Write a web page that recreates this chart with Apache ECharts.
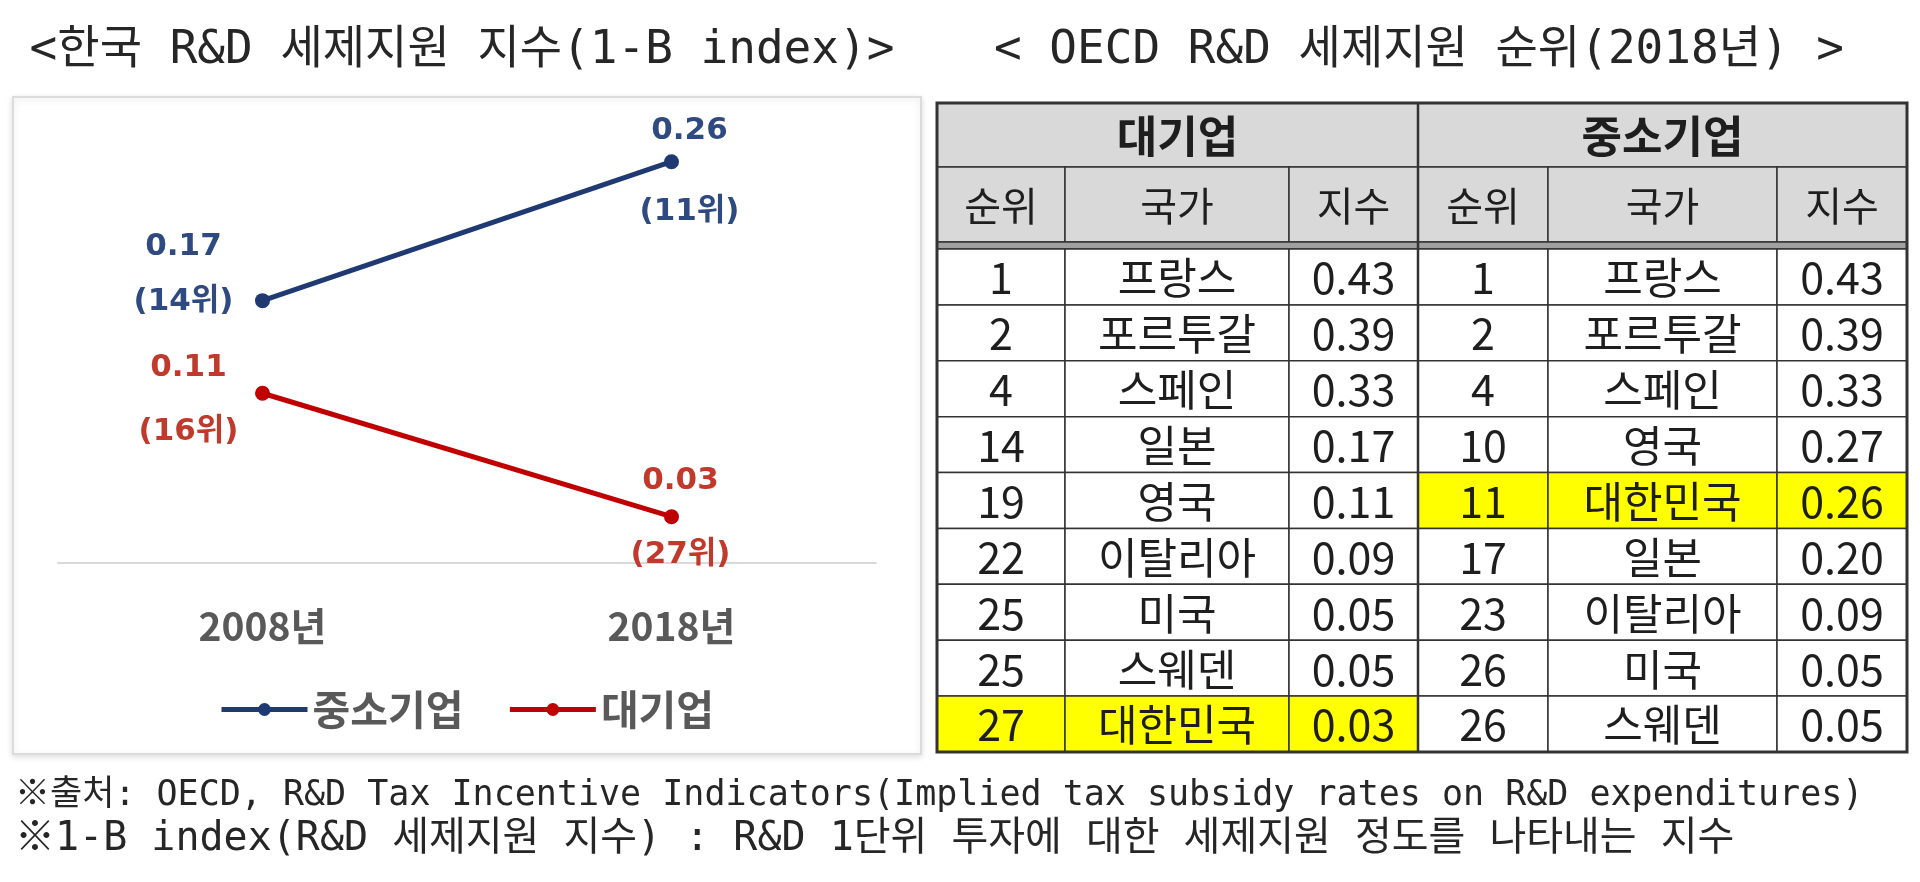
<!DOCTYPE html>
<html><head><meta charset="utf-8">
<script src="https://cdn.jsdelivr.net/npm/echarts@6/dist/echarts.min.js"></script>
<style>html,body{margin:0;padding:0;background:#fff}#c{width:1920px;height:882px}</style>
</head><body><div id="c"></div>
<script>
// ---- line chart data ----
const years = ['2008년', '2018년'];
const smeName = '중소기업';
const largeName = '대기업';
const smeValues = [0.17, 0.26];
const smeRanks = [14, 11];
const largeValues = [0.11, 0.03];
const largeRanksChart = [16, 27];

// ---- table data ----
const groupHeaders = ['대기업', '중소기업'];
const colHeaders = ['순위', '국가', '지수'];
const tblLargeRank = [1, 2, 4, 14, 19, 22, 25, 25, 27];
const tblLargeCountry = ['프랑스', '포르투갈', '스페인', '일본', '영국', '이탈리아', '미국', '스웨덴', '대한민국'];
const tblLargeIndex = [0.43, 0.39, 0.33, 0.17, 0.11, 0.09, 0.05, 0.05, 0.03];
const tblSmeRank = [1, 2, 4, 10, 11, 17, 23, 26, 26];
const tblSmeCountry = ['프랑스', '포르투갈', '스페인', '영국', '대한민국', '일본', '이탈리아', '미국', '스웨덴'];
const tblSmeIndex = [0.43, 0.39, 0.33, 0.27, 0.26, 0.20, 0.09, 0.05, 0.05];
const highlightCountry = '대한민국';

// ---- texts ----
const leftTitle = '<한국 R&D 세제지원 지수(1-B index)>';
const rightTitle = '< OECD R&D 세제지원 순위(2018년) >';
const note1 = '※출처: OECD, R&D Tax Incentive Indicators(Implied tax subsidy rates on R&D expenditures)';
const note2 = '※1-B index(R&D 세제지원 지수) : R&D 1단위 투자에 대한 세제지원 정도를 나타내는 지수';

// ---- layout (styles) ----
const COL = [0, 128, 352, 481, 611, 840, 970];
const TBL_H = 649;
const DATA_TOP = 146;
const ROW_H = (TBL_H - DATA_TOP) / 9;
const CJK = '"Noto Sans CJK KR"';
const MONO = '"DejaVu Sans Mono", "Noto Sans CJK KR"';

const labelOffsets = {
  sme: [{off: [-79, -26], lh: 55}, {off: [18, 10], lh: 81}],
  large: [{off: [-74, 7], lh: 64}, {off: [9, 1], lh: 74}]
};
function mkData(vals, ranks, key, color) {
  return vals.map((v, i) => ({
    value: v,
    label: {
      show: true, position: 'inside', offset: labelOffsets[key][i].off,
      align: 'center', verticalAlign: 'middle',
      lineHeight: labelOffsets[key][i].lh,
      formatter: v.toFixed(2) + '\n(' + ranks[i] + '위)',
      fontFamily: '"DejaVu Sans", "Noto Sans CJK KR"', fontWeight: 'bold', fontSize: 31, color: color
    }
  }));
}

// ---- table cells ----
const cells = [];
function addCell(c0, c1, y0, y1, text, o) {
  cells.push(Object.assign({x0: COL[c0], x1: COL[c1], y0: y0, y1: y1, text: text}, o));
}
const HDR = '#D9D9D9';
addCell(0, 3, 0, 64, groupHeaders[0], {fill: HDR, size: 44, bold: true});
addCell(3, 6, 0, 64, groupHeaders[1], {fill: HDR, size: 44, bold: true});
for (let h = 0; h < 2; h++) for (let k = 0; k < 3; k++)
  addCell(3 * h + k, 3 * h + k + 1, 64, 139, colHeaders[k], {fill: HDR, size: 40});
cells.push({x0: 0, x1: 970, y0: 139, y1: DATA_TOP, text: '', fill: '#A0A0A0'});
for (let i = 0; i < 9; i++) {
  const y0 = DATA_TOP + i * ROW_H, y1 = DATA_TOP + (i + 1) * ROW_H;
  const fl = tblLargeCountry[i] === highlightCountry ? '#FFFF00' : '#FFFFFF';
  const fs = tblSmeCountry[i] === highlightCountry ? '#FFFF00' : '#FFFFFF';
  addCell(0, 1, y0, y1, String(tblLargeRank[i]), {fill: fl, size: 43});
  addCell(1, 2, y0, y1, tblLargeCountry[i], {fill: fl, size: 43});
  addCell(2, 3, y0, y1, tblLargeIndex[i].toFixed(2), {fill: fl, size: 43});
  addCell(3, 4, y0, y1, String(tblSmeRank[i]), {fill: fs, size: 43});
  addCell(4, 5, y0, y1, tblSmeCountry[i], {fill: fs, size: 43});
  addCell(5, 6, y0, y1, tblSmeIndex[i].toFixed(2), {fill: fs, size: 43});
}
cells.push({x0: 0, x1: 970, y0: 0, y1: TBL_H, text: '', fill: null, lw: 3});
cells.push({x0: COL[3], x1: COL[3], y0: 0, y1: TBL_H, text: '', fill: null, lw: 2.5});

function renderCell(params, api) {
  const c = cells[params.dataIndex];
  const p0 = api.coord([api.value(0), api.value(1)]);
  const p1 = api.coord([api.value(2), api.value(3)]);
  const children = [{
    type: 'rect',
    shape: {x: p0[0], y: p0[1], width: p1[0] - p0[0], height: p1[1] - p0[1]},
    style: {fill: c.fill || 'none', stroke: '#333', lineWidth: c.lw || 1.5}
  }];
  if (c.text) {
    children.push({
      type: 'text',
      style: {
        text: c.text, x: (p0[0] + p1[0]) / 2, y: (p0[1] + p1[1]) / 2 + 1,
        align: 'center', verticalAlign: 'middle',
        fontFamily: CJK, fontSize: c.size, fontWeight: c.bold ? 'bold' : 'normal',
        fill: '#1e1e1e'
      }
    });
  }
  return {type: 'group', children: children};
}

const chart = echarts.init(document.getElementById('c'));
chart.setOption({
  animation: false,
  backgroundColor: '#ffffff',
  graphic: [
    {type: 'rect', z: -10, shape: {x: 13, y: 97, width: 908, height: 657},
     style: {fill: '#fff', stroke: '#DCDCDC', lineWidth: 2, shadowBlur: 6, shadowColor: 'rgba(0,0,0,0.12)', shadowOffsetY: 2}},
    {type: 'text', x: 462, y: 51, style: {text: leftTitle, align: 'center', verticalAlign: 'middle', font: '46px ' + MONO, fill: '#262626'}},
    {type: 'text', x: 1419, y: 51, style: {text: rightTitle, align: 'center', verticalAlign: 'middle', font: '46px ' + MONO, fill: '#262626'}},
    {type: 'text', x: 15, y: 796, style: {text: note1, align: 'left', verticalAlign: 'middle', font: '35px ' + MONO, fill: '#262626'}},
    {type: 'text', x: 15, y: 840, style: {text: note2, align: 'left', verticalAlign: 'middle', font: '40px ' + MONO, fill: '#262626'}}
  ],
  legend: {
    data: [smeName, largeName], left: 214, top: 684, itemWidth: 86, itemHeight: 16, itemGap: 44,
    lineStyle: {width: 5},
    textStyle: {fontSize: 41, fontWeight: 'bold', color: '#595959', fontFamily: CJK}
  },
  grid: [
    {left: 58, right: 1044, top: 100, bottom: 319},
    {left: 937, top: 103, width: 970, height: TBL_H}
  ],
  xAxis: [
    {type: 'category', gridIndex: 0, data: years,
     axisLine: {lineStyle: {color: '#D9D9D9', width: 2}}, axisTick: {show: false},
     axisLabel: {fontSize: 39, fontWeight: 'bold', color: '#595959', margin: 44, fontFamily: CJK}},
    {type: 'value', gridIndex: 1, min: 0, max: 970, show: false}
  ],
  yAxis: [
    {type: 'value', gridIndex: 0, min: 0, max: 0.3, show: false},
    {type: 'value', gridIndex: 1, min: 0, max: TBL_H, inverse: true, show: false}
  ],
  series: [
    {name: smeName, type: 'line', xAxisIndex: 0, yAxisIndex: 0, data: mkData(smeValues, smeRanks, 'sme', '#2F4A80'),
     color: '#1F3A73', lineStyle: {width: 5}, symbol: 'circle', symbolSize: 15},
    {name: largeName, type: 'line', xAxisIndex: 0, yAxisIndex: 0, data: mkData(largeValues, largeRanksChart, 'large', '#C0392B'),
     color: '#C00000', lineStyle: {width: 5}, symbol: 'circle', symbolSize: 15},
    {type: 'custom', xAxisIndex: 1, yAxisIndex: 1, clip: false, renderItem: renderCell,
     encode: {x: [0, 2], y: [1, 3]},
     data: cells.map(c => [c.x0, c.y0, c.x1, c.y1])}
  ]
});
</script></body></html>
